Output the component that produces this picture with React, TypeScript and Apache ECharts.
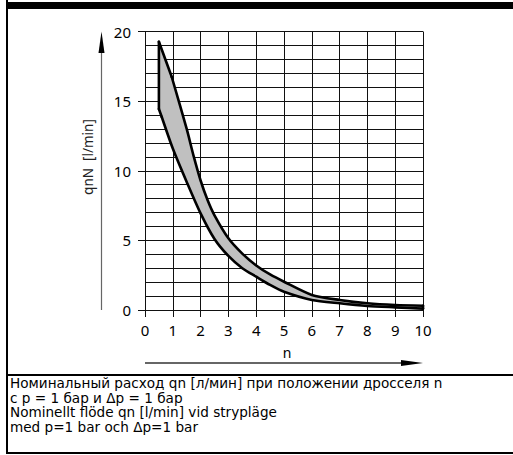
import React, { useEffect, useRef } from "react";
import * as echarts from "echarts";

const upperX = [0.5, 0.96, 1.5, 1.75, 2, 2.25, 2.5, 3, 3.5, 4, 4.5, 5, 6, 7, 8, 9, 10];
const upperY = [19.26, 16.75, 13.0, 11.05, 9.3, 7.9, 6.8, 5.15, 4.05, 3.2, 2.55, 2.03, 1.08, 0.72, 0.48, 0.36, 0.31];
const lowerX = [0.5, 0.6, 1, 1.5, 2, 2.5, 3, 3.5, 4, 4.5, 5, 6, 7, 8, 9, 10];
const lowerY = [14.43, 13.88, 11.6, 9.2, 6.94, 5.1, 3.88, 3.0, 2.39, 1.8, 1.31, 0.72, 0.48, 0.29, 0.19, 0.1];

const yAxisName = "qnN  [l/min]";
const xAxisName = "n";
const captionLines = [
  "Номинальный расход qn [л/мин] при положении дросселя n",
  "с p = 1 бар и Δp = 1 бар",
  "Nominellt flöde qn [l/min] vid strypläge",
  "med p=1 bar och Δp=1 bar",
];

const FONT = "Noto Sans";
const CAPFONT = "DejaVu Sans";

export default function App() {
  const ref = useRef<HTMLDivElement>(null);
  useEffect(() => {
    if (!ref.current) return;
    const chart = echarts.init(ref.current, undefined, { renderer: "svg" });
    const gridLine = { show: true, lineStyle: { color: "#111", width: 1 } };
    chart.setOption({
      animation: false,
      backgroundColor: "#fff",
      grid: { left: 145, top: 31.5, width: 278, height: 278.5 },
      xAxis: {
        type: "value",
        min: 0,
        max: 10,
        interval: 1,
        axisLine: { show: true, lineStyle: { color: "#111", width: 1 } },
        axisTick: { show: true, length: 7, lineStyle: { color: "#111" } },
        axisLabel: { fontSize: 15, color: "#000", margin: 12, fontFamily: FONT },
        splitLine: gridLine,
      },
      yAxis: {
        type: "value",
        min: 0,
        max: 20,
        interval: 5,
        axisLine: { show: true, lineStyle: { color: "#111", width: 1 } },
        axisTick: { show: true, length: 7, lineStyle: { color: "#111" } },
        axisLabel: { fontSize: 15, color: "#000", margin: 14, fontFamily: FONT },
        splitLine: gridLine,
        minorTick: { show: false, splitNumber: 5 },
        minorSplitLine: { show: true, lineStyle: { color: "#111", width: 1 } },
      },
      series: [
        {
          type: "custom",
          data: [[0, 0]],
          renderItem: (_params: any, api: any) => {
            const up = upperX.map((x, i) => api.coord([x, upperY[i]]));
            const lo = lowerX.map((x, i) => api.coord([x, lowerY[i]]));
            const poly = up.concat(lo.slice().reverse());
            const stroke = { stroke: "#000", lineWidth: 2.6, fill: "none", lineJoin: "round", lineCap: "round" };
            return {
              type: "group",
              children: [
                { type: "polygon", shape: { points: poly }, style: { fill: "#c0c0c0" } },
                { type: "polyline", shape: { points: up.slice(0, 2) }, style: stroke },
                { type: "polyline", shape: { points: up.slice(1), smooth: 0.25 }, style: stroke },
                { type: "polyline", shape: { points: lo.slice(0, 2) }, style: stroke },
                { type: "polyline", shape: { points: lo.slice(1), smooth: 0.25 }, style: stroke },
                { type: "polyline", shape: { points: [up[0], lo[0]] }, style: stroke },
                { type: "polyline", shape: { points: [up[up.length - 1], lo[lo.length - 1]] }, style: stroke },
              ],
            };
          },
        },
      ],
      graphic: [
        { type: "rect", shape: { x: 6, y: 2, width: 507, height: 7 }, style: { fill: "#000" } },
        { type: "rect", shape: { x: 6, y: 0, width: 2, height: 454 }, style: { fill: "#000" } },
        { type: "rect", shape: { x: 6, y: 374, width: 507, height: 2 }, style: { fill: "#000" } },
        { type: "rect", shape: { x: 6, y: 452, width: 507, height: 2 }, style: { fill: "#000" } },
        { type: "line", shape: { x1: 101.5, y1: 310, x2: 101.5, y2: 50 }, style: { stroke: "#666", lineWidth: 1.2 } },
        { type: "polygon", shape: { points: [[101.5, 31.5], [98.5, 53], [104.5, 53]] }, style: { fill: "#000" } },
        { type: "line", shape: { x1: 145, y1: 363, x2: 405, y2: 363 }, style: { stroke: "#333", lineWidth: 1.3 } },
        { type: "polygon", shape: { points: [[423, 363], [401, 360], [401, 366]] }, style: { fill: "#000" } },
        {
          type: "text",
          x: 287,
          y: 352,
          style: { text: xAxisName, fontSize: 14, fill: "#000", align: "center", verticalAlign: "middle", fontFamily: FONT },
        },
        {
          type: "text",
          x: 88,
          y: 157,
          rotation: Math.PI / 2,
          style: { text: yAxisName, fontSize: 13.5, fill: "#222", align: "center", verticalAlign: "middle", fontFamily: FONT },
        },
        ...captionLines.map((t, i) => ({
          type: "text",
          x: 10,
          y: 383 + i * 14.6,
          style: {
            text: t,
            fontSize: 13.6,
            lineHeight: 14,
            fill: "#000",
            align: "left",
            verticalAlign: "middle",
            fontFamily: CAPFONT,
          },
        })),
      ],
    });
    return () => chart.dispose();
  }, []);
  return <div ref={ref} style={{ position: "absolute", left: 0, top: 0, width: 513, height: 455 }} />;
}
